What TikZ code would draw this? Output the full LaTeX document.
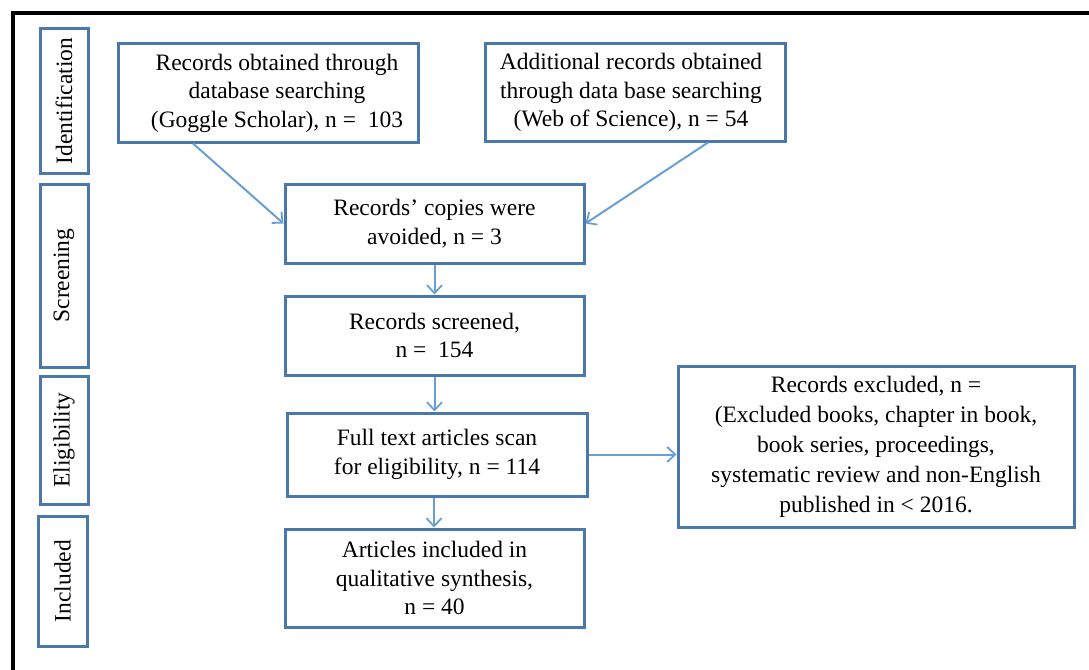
\documentclass[tikz,border=0pt]{standalone}
\usepackage{fontspec}
\setmainfont{Liberation Serif}
\usetikzlibrary{arrows.meta,calc}
\definecolor{boxblue}{HTML}{4A78AA}
\definecolor{arrowblue}{HTML}{6A9FD6}
\tikzset{
  txt/.style={font=\fontsize{23.5}{28.5}\selectfont},
  stage/.style={draw=boxblue, line width=3pt, fill=white, inner sep=0pt, minimum width=48pt, rotate=90, txt},
  flowbox/.style={draw=boxblue, line width=3pt, fill=white, inner sep=0pt, align=center, txt},
  conn/.style={draw=arrowblue, line width=2pt, -{Straight Barb[length=8pt,width=15pt,line width=1.8pt]}}
}
\begin{document}
\begin{tikzpicture}[x=1pt,y=-1pt]
\useasboundingbox (0,0) rectangle (1089,669);
\clip (0,0) rectangle (1089,669);
\fill[white] (0,0) rectangle (1089,669);
% outer frame
\draw[black, line width=3.5pt] (13,720) -- (13,13) -- (1120,13);
% stage labels (rotated)
\node[stage, minimum height=48pt, minimum width=144pt] (id) at (64,101) {Identification};
\node[stage, minimum height=48pt, minimum width=183pt] (scr) at (64,275.5) {Screening};
\node[stage, minimum height=48pt, minimum width=128pt] (elig) at (64,440) {Eligibility};
\node[stage, minimum height=49pt, minimum width=130pt] (incl) at (62.5,581) {Included};
% flow boxes
\node[flowbox, minimum width=300pt, minimum height=98pt] (b1) at (268,93) {};
\node[txt, align=center] (t1) at (277,93) {Records obtained through\\database searching\\(Goggle Scholar), n =\ \ 103};
\node[flowbox, minimum width=300pt, minimum height=97pt] (b2) at (635,92.5) {};
\node[txt, align=center] (t2) at (631,92.5) {Additional records obtained\\through data base searching\\(Web of Science), n = 54};
\node[flowbox, minimum width=299pt, minimum height=79pt] (b3) at (434.5,223.5) {Records' copies were\\avoided, n = 3};
\node[flowbox, minimum width=299pt, minimum height=79pt] (b4) at (434.5,335.5) {Records screened,\\n =\ \ 154};
\node[flowbox, minimum width=300pt, minimum height=83pt] (b5) at (437,454.5) {Full text articles scan\\for eligibility, n = 114};
\node[flowbox, minimum width=299pt, minimum height=98pt] (b6) at (434.5,578) {Articles included in\\qualitative synthesis,\\n = 40};
\node[flowbox, minimum width=396pt, minimum height=161pt, font=\fontsize{23.5}{30}\selectfont] (exc) at (876,446.5) {Records excluded, n =\\(Excluded books, chapter in book,\\book series, proceedings,\\systematic review and non-English\\published in < 2016.};
% connectors
\draw[conn] ([xshift=-75pt]b1.south) -- (b3.west);
\draw[conn] ([xshift=73pt]b2.south) -- (b3.east);
\draw[conn] (b3.south) -- (b3.south |- b4.north);
\draw[conn] (b4.south) -- (b4.south |- b5.north);
\draw[conn] ([xshift=-3pt]b5.south) -- ([xshift=-3pt]b5.south |- b6.north);
\draw[conn] (b5.east) -- (b5.east -| exc.west);
\end{tikzpicture}
\end{document}
